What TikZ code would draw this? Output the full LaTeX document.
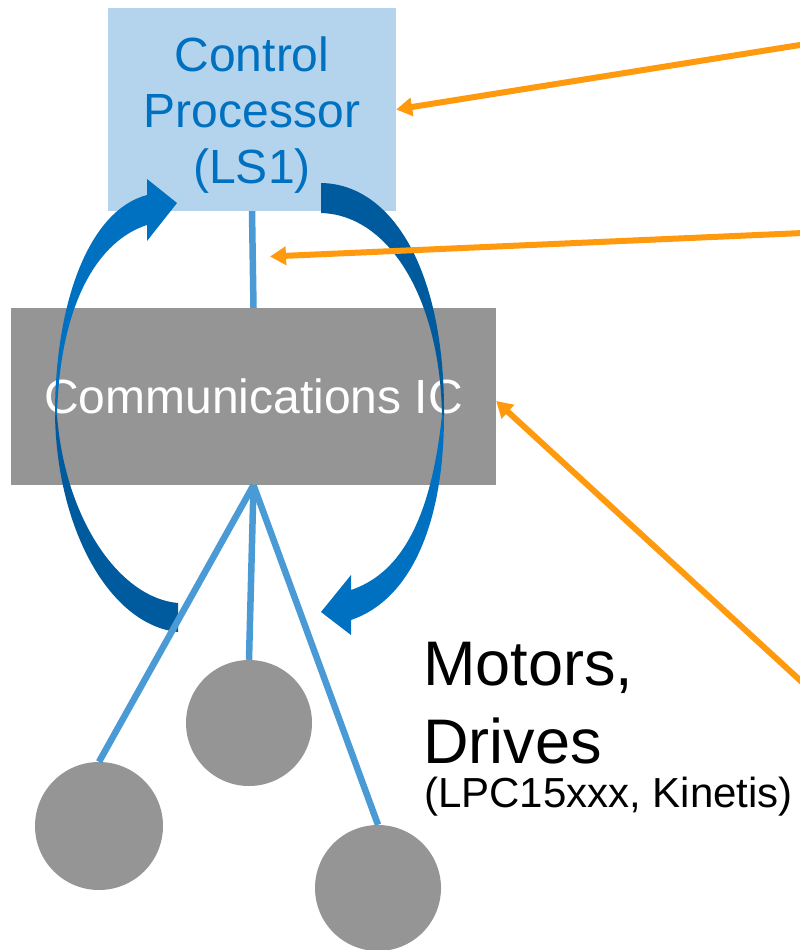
\documentclass[tikz,border=0pt]{standalone}
\usepackage{fontspec}
\setmainfont{Liberation Sans}
\usetikzlibrary{arrows.meta}
\definecolor{cpfill}{HTML}{B4D4EE}
\definecolor{cptext}{HTML}{0070C0}
\definecolor{gryfill}{HTML}{959595}
\definecolor{linkblue}{HTML}{4A9AD6}
\definecolor{arrlight}{HTML}{0070C0}
\definecolor{arrdark}{HTML}{005A9E}
\definecolor{orng}{HTML}{FF9A0E}
\begin{document}
\begin{tikzpicture}[x=1pt,y=-1pt,
  cpbox/.style={fill=cpfill, minimum width=288pt, minimum height=203pt, inner sep=0pt},
  cplabel/.style={text=cptext, align=center, inner sep=0pt, font=\fontsize{48}{56}\selectfont},
  commbox/.style={fill=gryfill, text=white, minimum width=485pt, minimum height=177pt, inner sep=0pt, font=\fontsize{48}{56}\selectfont},
  motor/.style={circle, fill=gryfill, inner sep=0pt, minimum size=#1},
  linkline/.style={draw=linkblue, line width=6.5pt},
  callout/.style={draw=orng, line width=6pt, -{Triangle[length=16pt,width=18pt]}},
  bigtext/.style={anchor=base west, inner sep=0pt, font=\fontsize{63}{72}\selectfont},
  smalltext/.style={anchor=base west, inner sep=0pt, font=\fontsize{42}{48}\selectfont}]
\useasboundingbox (0,0) rectangle (800,950);

% boxes
\node[cpbox] (cp) at (252,109.5) {};
\node[cplabel] (cpt) at (252,115.5) {Control\\Processor\\(LS1)};
\node[commbox] (comm) at (253.5,396.5) {Communications IC};

% motor circles
\node[motor=128pt] (m1) at (99,826) {};
\node[motor=126pt] (m2) at (249,723) {};
\node[motor=126pt] (m3) at (378,888) {};

% curved arrows (left)
\fill[arrlight] (55,415) .. controls (55,300) and (90,210) .. (147,195)
  -- (147,179) -- (177,203) -- (147,241) -- (147,225)
  .. controls (100,240) and (60,300) .. (57,415) -- cycle;
\fill[arrdark] (55,415) .. controls (57,530) and (110,625) .. (178,632)
  -- (178,603) .. controls (120,598) and (65,520) .. (57,415) -- cycle;
% curved arrows (right)
\fill[arrdark] (321,183) .. controls (392,184) and (445,270) .. (444,415)
  -- (442,415) .. controls (440,300) and (390,215) .. (321,213) -- cycle;
\fill[arrlight] (444,415) .. controls (444,525) and (410,600) .. (351,620)
  -- (351,635) -- (321,612) -- (351,575) -- (351,590)
  .. controls (395,575) and (430,530) .. (442,415) -- cycle;

% blue links
\draw[linkline] (cp.south) -- (comm.north);
\draw[linkline] (comm.south) -- (m1.north);
\draw[linkline] (comm.south) -- (m2.north);
\draw[linkline] (comm.south) -- (m3.north);

% text
\node[bigtext] (mot) at (423,685) {Motors,};
\node[bigtext] (drv) at (423,763) {Drives};
\node[smalltext] (lpc) at (424,807) {(LPC15xxx, Kinetis)};

% orange callouts
\coordinate (o1) at (803,44.5);
\coordinate (o2) at (803,233);
\coordinate (o3) at (803,683);
\coordinate (t2) at (270,256.5);
\draw[callout] (o1) -- (cp.east);
\draw[callout] (o2) -- (t2);
\draw[callout] (o3) -- ([yshift=-4.5pt]comm.east);
\end{tikzpicture}
\end{document}
